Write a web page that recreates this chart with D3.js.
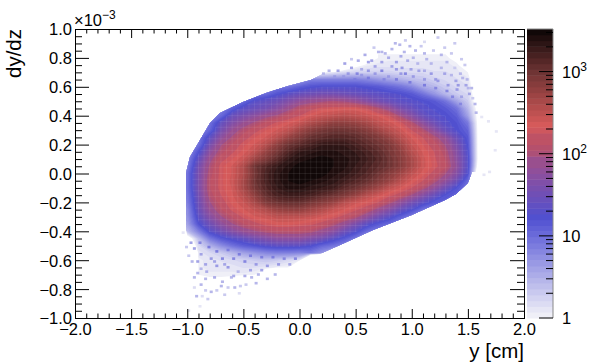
<!DOCTYPE html>
<html>
<head>
<meta charset="utf-8">
<script src="https://d3js.org/d3.v7.min.js"></script>
<style>
  html, body { margin: 0; background: #fff; }
  text { font-family: "Liberation Sans", sans-serif; fill: #000; }
  .tick line, .domain { stroke: #000; }
</style>
</head>
<body>
<div id="chart"></div>
<script>
// bin centres of the coarse table
var yCentres = [-1.1,-1.0,-0.9,-0.8,-0.7,-0.6,-0.5,-0.4,-0.3,-0.2,-0.1,0,0.1,0.2,0.3,0.4,0.5,0.6,0.7,0.8,0.9,1.0,1.1,1.2,1.3,1.4,1.5,1.6,1.7,1.8];
var slopeCentres = [0.8,0.75,0.7,0.65,0.6,0.55,0.5,0.45,0.4,0.35,0.3,0.25,0.2,0.15,0.1,0.05,0,-0.05,-0.1,-0.15,-0.2,-0.25,-0.3,-0.35,-0.4,-0.45,-0.5,-0.55,-0.6,-0.65,-0.7,-0.75];

// log10(entries) per row, top to bottom. -4 = empty, short rows are empty to the right
var logCounts = [
  [-4,-4,-4,-4,-4,-4,-4,-4,-4,-4,-4,-4,-4,-4,-4,-4,-4,-.3,0,.05,.05,.05,.05,.05,.05,-.1,-.4],
  [-4,-4,-4,-4,-4,-4,-4,-4,-4,-4,-4,-4,-4,-4,-4,-.4,-.1,.05,.1,.1,.1,.1,.1,.1,.1,.05,-.2],
  [-4,-4,-4,-4,-4,-4,-4,-4,-4,-4,-4,-.6,-.3,0,.1,.2,.25,.25,.25,.25,.2,.2,.2,.15,.15,.1,0,-.6],
  [-4,-4,-4,-4,-4,-4,-4,-4,-4,-4,.2,.6,.85,.85,.85,.85,.85,.8,.7,.6,.5,.4,.35,.25,.2,.15,.1,-.4],
  [-4,-4,-4,-4,-4,-4,-4,-1.5,.4,.9,.95,1.1,1.2,1.25,1.25,1.25,1.25,1.2,1.15,1.05,.95,.8,.55,.45,.3,.2,.15,-.4],
  [-4,-4,-4,-4,-4,-1.5,.4,.9,1,1.2,1.35,1.45,1.5,1.55,1.55,1.5,1.45,1.4,1.35,1.3,1.25,1.15,.95,.7,.45,.3,.2,-.3],
  [-4,-4,-4,-4,.3,.8,1,1.3,1.4,1.5,1.65,1.8,1.9,1.95,2,1.95,1.85,1.7,1.55,1.45,1.35,1.3,1.25,1.15,.95,.6,.3,-.3],
  [-4,-4,-4,.5,.9,1.1,1.35,1.45,1.55,1.7,1.9,2.1,2.2,2.3,2.32,2.35,2.35,2.25,2.05,1.85,1.6,1.45,1.3,1.25,1.15,.95,.45,-.2],
  [-4,-4,-4,.9,1,1.45,1.6,1.75,1.9,2,2.15,2.25,2.38,2.46,2.5,2.55,2.5,2.45,2.38,2.25,1.95,1.7,1.45,1.3,1.25,1.1,.6,-.2],
  [-4,-4,.5,.95,1.4,1.65,1.85,2,2.15,2.28,2.36,2.46,2.6,2.7,2.8,2.8,2.75,2.65,2.5,2.42,2.3,2.05,1.75,1.5,1.3,1.2,.9,-.2],
  [-4,-4,.8,1.05,1.55,1.85,2.05,2.2,2.32,2.4,2.5,2.7,2.85,2.95,3,3,2.95,2.85,2.7,2.55,2.42,2.25,2.05,1.75,1.45,1.25,1.05,-.2],
  [-4,.4,.9,1.35,1.75,2,2.18,2.32,2.4,2.55,2.75,2.9,3.05,3.1,3.15,3.15,3.1,3,2.9,2.75,2.55,2.38,2.25,2.05,1.8,1.45,1.15,-.2],
  [-4,.6,.95,1.55,1.95,2.13,2.3,2.4,2.55,2.8,3,3.1,3.2,3.3,3.3,3.3,3.2,3.1,3,2.9,2.7,2.46,2.32,2.18,1.95,1.6,1.2,-.2],
  [-4,.7,1.2,1.75,2.06,2.23,2.35,2.5,2.75,2.95,3.15,3.3,3.35,3.4,3.4,3.35,3.3,3.2,3.1,2.95,2.8,2.55,2.38,2.25,2.05,1.7,1.25,-.2],
  [.4,.8,1.4,1.9,2.2,2.32,2.45,2.7,2.9,3.1,3.3,3.4,3.45,3.5,3.45,3.4,3.35,3.25,3.15,3,2.85,2.65,2.42,2.28,2.1,1.75,1.3,-.2],
  [.5,.85,1.55,2,2.3,2.4,2.6,3,3.15,3.3,3.4,3.5,3.5,3.5,3.45,3.4,3.3,3.2,3.1,3,2.85,2.65,2.42,2.3,2.15,1.8,1.3,-.3],
  [.6,.95,1.6,2.05,2.3,2.4,2.6,2.95,3.2,3.35,3.45,3.5,3.5,3.5,3.4,3.35,3.25,3.15,3,2.85,2.7,2.5,2.36,2.2,1.98,1.7,1.25,-.6],
  [.6,.95,1.6,2.1,2.3,2.42,2.65,3,3.2,3.35,3.45,3.5,3.45,3.4,3.35,3.25,3.15,3.05,2.9,2.75,2.55,2.38,2.25,2.05,1.8,1.5,1,.5,-4],
  [.6,.95,1.6,2.1,2.3,2.4,2.65,2.95,3.15,3.3,3.4,3.4,3.35,3.3,3.25,3.1,3,2.85,2.7,2.5,2.38,2.25,2.05,1.8,1.5,1.2,.9,-4],
  [.6,.9,1.55,2.05,2.25,2.38,2.55,2.8,3.05,3.2,3.25,3.25,3.2,3.1,3,2.9,2.75,2.55,2.42,2.3,2.18,1.95,1.7,1.45,1.2,1.05,.8,-4],
  [.6,.85,1.5,1.95,2.18,2.35,2.45,2.65,2.9,3,3.05,3.05,2.95,2.85,2.75,2.55,2.42,2.35,2.25,2.05,1.8,1.55,1.35,1.15,1.05,.8,-4],
  [.6,.75,1.45,1.85,2.1,2.28,2.38,2.48,2.6,2.75,2.8,2.8,2.7,2.6,2.46,2.38,2.28,2.15,1.9,1.7,1.45,1.25,.95,.8,-4],
  [.6,.7,1.35,1.7,1.95,2.12,2.28,2.38,2.42,2.5,2.5,2.5,2.46,2.38,2.32,2.2,2.05,1.8,1.55,1.35,1.1,.85,.5,-4],
  [.3,.6,1.2,1.5,1.75,1.95,2.1,2.2,2.3,2.35,2.35,2.32,2.28,2.2,2.05,1.85,1.6,1.35,1.15,1,.8,.5,-4],
  [-4,.4,.85,1.3,1.5,1.7,1.85,1.95,2.05,2.1,2.1,2.1,2.05,1.9,1.75,1.5,1.3,1,.85,.5,-4],
  [-4,-.3,.4,.9,1.15,1.3,1.4,1.55,1.65,1.75,1.75,1.75,1.65,1.55,1.35,1.15,.9,.6,-4],
  [-4,-.6,.2,.5,.75,.95,1.1,1.2,1.3,1.35,1.35,1.35,1.25,1.05,.95,.8,.5,-4],
  [-4,-4,.1,.2,.3,.45,.6,.7,.8,.85,.85,.8,.9,.7,.4,-4],
  [-4,-4,.05,.1,.15,.2,.25,.3,.35,.3,.2,.1,-3],
  [-4,-4,.05,.1,.1,.1,.15,.15,.1,.05,0,-3],
  [-4,-4,0,.05,.05,.05,.05,0,-.4],
  [-4,-1,-.2,-.1,-.1,-.2,-.5]
];

// outline of the populated region (the sharp kinematic edges)
var edgeY = [-1.011,-1.011,-0.976,-0.886,-0.797,-0.708,-0.503,-0.298,-0.102,0.102,0.272,0.566,0.6,2,2,1.537,1.5,1.394,1.296,1.0,0.655,0.361,0.12,-0.085,-0.414,-0.753,-0.976,-1.011];
var edgeSlope = [-0.183,0.003,0.114,0.232,0.349,0.419,0.495,0.557,0.606,0.647,0.716,0.855,1,1,0.01,0.01,-0.066,-0.142,-0.183,-0.287,-0.391,-0.495,-0.578,-0.647,-0.737,-0.855,-0.91,-0.91];

// isolated low-count bins in the tails: y, dy/dz, entries
var sparseY = [.84,.88,.97,1.07,1.22,1.37,.81,.72,.57,.69,1.1,1.25,1.34,1.43,.89,.78,.63,.51,.45,.95,1.04,1.16,1.25,1.37,1.46,.66,.81,.54,.39,1.1,.98,1.34,1.44,1.49,1.53,1.61,1.74,1.67,.54,.66,.78,.89,1,1.1,1.22,1.31,1.39,1.43,
  .42,.5,.6,.72,.74,.85,.93,1.05,1.16,1.2,1.28,1.38,1.47,1.5,1.4,1.3,1.35,1.42,1.2,1.1,.97,.85,.6,.48,.38,.33,.3,.25,.2,.6,.72,.85,.9,1,1.12,1.3,1.18,1.02,.92,.75,1.28,1.1,.93,.45,.65,1.42,1.48,1.52,1.55,1.56,
  -.95,-.89,-.95,-.84,-.77,-.89,-.8,-.93,-.83,-.68,-.62,-.54,-.49,-.44,-.71,-.59,-.38,-.23,-.68,-.89,-.56,-.77,-1,-.9,1.63,1.68,1.73,
  -.98,-.9,-.82,-.75,-.65,-.55,-.45,-.35,-.25,-.15,-.05,-.6,-.7,-.8,-.92,-.85,-.75,-.65,-.5,-.4,-.3,-.2,-.1,-.45,-.35,-.6,-.5,-.3,-.4,-.7,-.85,-.92,-.97,-.75,-.85,-.65,-.55,-.95,-.88,-1.02,-1.05,-1];
var sparseSlope = [.91,.9,.89,.89,.95,.91,.87,.85,.83,.85,.84,.83,.84,.8,.82,.81,.79,.79,.74,.79,.77,.77,.74,.74,.76,.75,.75,.73,.77,.72,.73,.69,.67,.6,.53,.4,.3,.37,.69,.7,.68,.7,.68,.66,.65,.62,.59,.54,
  .7,.7,.72,.72,.66,.73,.7,.72,.7,.66,.7,.65,.62,.56,.62,.58,.54,.49,.6,.62,.64,.66,.67,.66,.68,.72,.68,.72,.7,.78,.78,.78,.74,.81,.8,.78,.86,.86,.85,.84,.88,.92,.93,.8,.88,.7,.66,.6,.49,.43,
  -.51,-.55,-.71,-.67,-.71,-.76,-.81,-.84,-.86,-.83,-.71,-.77,-.76,-.71,-.77,-.78,-.69,-.69,-.62,-.65,-.67,-.6,-.94,-.91,0,.02,.17,
  -.47,-.47,-.5,-.53,-.52,-.55,-.56,-.57,-.57,-.58,-.58,-.58,-.58,-.58,-.6,-.62,-.63,-.64,-.6,-.62,-.63,-.62,-.62,-.66,-.66,-.7,-.7,-.72,-.75,-.74,-.72,-.68,-.6,-.8,-.8,-.78,-.82,-.78,-.84,-.5,-.4,-.56];
var sparseCount = [3,3,3,2,2,2,3,3,3.5,3,3,3,2,2,3.5,3.5,4,3.5,4,3.5,3,3,3,2,2,4,4,3.5,4,3.5,4,3,3,3,2,1.3,1.3,1.3,5,5,5,5,5,5,5,4.5,4.5,4,
  5,6,5,6,6,5,6,4,5,5,4,4,4,4,5,6,6,6,6,7,8,7,7,8,5,4,5,3,3,4,4,4,5,3,3,3,2,3,3,3,2,1.4,2,2,2,3,3,3,3,3,
  4,4,3,3.5,3.5,3,3,3,2,2,3,2,2,3,3,3,3,3,4,3,3,4,1.3,1.3,1.3,1.3,1.3,
  4,6,7,7,8,8,8,8,7,6,6,6,6,5,4,4,5,5,6,5,5,5,4,4,4,3.5,3.5,3,3,3,3,3,3,2,2,2,1.4,1.4,1.4,2,1.3,2];

var xMajor = [-2,-1.5,-1,-0.5,0,0.5,1,1.5,2];
var slopeMajor = [-1,-0.8,-0.6,-0.4,-0.2,0,0.2,0.4,0.6,0.8,1];
var zMajor = [1,10,100,1000];
var zMinor = [2,3,4,5,6,7,8,9,20,30,40,50,60,70,80,90,200,300,400,500,600,700,800,900,2000,3000];
var zMax = 3300;

// colour ramp, sampled from the palette bar (log10 entries -> colour)
var rampStops = [0,1,1.22,1.78,2.1,2.35,3,3.52];
var rampColors = ["#f4f4f8","#6c6cda","#5050d0","#8e4f9c","#b85068","#d65a5a","#6e3333","#0a0505"];

var width = 598, height = 364;
var margin = { top: 29, right: 74, bottom: 46, left: 75 };
var nLevels = 50;

var svg = d3.select("#chart").append("svg")
    .attr("width", width)
    .attr("height", height)
    .style("display", "block");

var x = d3.scaleLinear().domain([-2, 2]).range([margin.left, width - margin.right]);
var y = d3.scaleLinear().domain([-1, 1]).range([height - margin.bottom, margin.top]);
var z = d3.scaleLog().domain([1, zMax]).range([height - margin.bottom, margin.top]);
var ramp = d3.scaleLinear().domain(rampStops).range(rampColors);

var topLog = Math.log10(zMax);
var levels = d3.range(nLevels).map(function(i) { return i * topLog / nLevels; });
function levelColor(v) {
    var i = Math.min(nLevels - 1, Math.floor(v / topLog * nLevels));
    return ramp((i + 0.5) * topLog / nLevels);
}

// table -> flat grid for d3.contours
var nx = yCentres.length, ny = slopeCentres.length;
var grid = [];
logCounts.forEach(function(row) {
    for (var i = 0; i < nx; i++) grid.push(row[i] === undefined ? -4 : row[i]);
});

var contours = d3.contours().size([nx, ny]).smooth(true).thresholds(levels)(grid);

var toPlot = d3.geoTransform({
    point: function(gx, gy) {
        var a = yCentres[0] + (gx - 0.5) * (yCentres[1] - yCentres[0]);
        var b = slopeCentres[0] + (gy - 0.5) * (slopeCentres[1] - slopeCentres[0]);
        this.stream.point(x(a), y(b));
    }
});
var path = d3.geoPath(toPlot);

var defs = svg.append("defs");
defs.append("clipPath").attr("id", "plotClip").append("rect")
    .attr("x", x(-2)).attr("y", y(1))
    .attr("width", x(2) - x(-2)).attr("height", y(-1) - y(1));
defs.append("clipPath").attr("id", "edgeClip").append("path")
    .attr("d", d3.line()
        .x(function(d) { return x(d); })
        .y(function(d, i) { return y(edgeSlope[i]); })
        .curve(d3.curveLinearClosed)(edgeY));
// faint bin-grid moire only shows inside the populated part
defs.append("clipPath").attr("id", "coreClip").append("path")
    .attr("d", path(d3.contours().size([nx, ny]).smooth(true).contour(grid, 1.25)));

var plot = svg.append("g").attr("clip-path", "url(#plotClip)");

plot.append("g").attr("clip-path", "url(#edgeClip)").selectAll("path")
    .data(contours)
    .join("path")
    .attr("d", path)
    .attr("fill", function(d) { return levelColor(d.value); });

// sparse tail bins
var binW = 0.027, binH = 0.018;
plot.append("g").selectAll("rect")
    .data(sparseCount)
    .join("rect")
    .attr("x", function(d, i) { return x(sparseY[i]); })
    .attr("y", function(d, i) { return y(sparseSlope[i]); })
    .attr("width", x(binW) - x(0))
    .attr("height", y(0) - y(binH))
    .attr("fill", function(d) { return levelColor(Math.log10(d)); });

var moire = plot.append("g").attr("clip-path", "url(#edgeClip)")
    .append("g").attr("clip-path", "url(#coreClip)")
    .attr("stroke", "#fff").attr("stroke-opacity", 0.08);
moire.selectAll("line.v").data(d3.range(-1, 1.6, 0.05)).join("line")
    .attr("class", "v")
    .attr("x1", function(d) { return x(d); }).attr("x2", function(d) { return x(d); })
    .attr("y1", y(1)).attr("y2", y(-1));
moire.selectAll("line.h").data(d3.range(-0.6, 0.7, 0.04)).join("line")
    .attr("class", "h")
    .attr("y1", function(d) { return y(d); }).attr("y2", function(d) { return y(d); })
    .attr("x1", x(-2)).attr("x2", x(2));

// Ejes: major + minor ticks, drawn inward on all four sides
function minorsOf(majors, n) {
    var out = [];
    for (var i = 0; i < majors.length - 1; i++) {
        for (var j = 1; j < n; j++) out.push(majors[i] + (majors[i + 1] - majors[i]) * j / n);
    }
    return out;
}
var xMinor = minorsOf(xMajor, 5);
var slopeMinor = minorsOf(slopeMajor, 4);
var fmt = d3.format(".1f");
var tickX = 9, tickY = 14;

function addAxis(axisFn, scale, tr, minor, major, len, labels) {
    var g = svg.append("g").attr("transform", tr);
    g.call(axisFn(scale).tickValues(minor).tickSize(-len / 2).tickFormat(""));
    g.selectAll("text").remove();
    var h = svg.append("g").attr("transform", tr);
    h.call(axisFn(scale).tickValues(major).tickSize(-len).tickPadding(len * -1 + 3)
        .tickFormat(labels ? fmt : ""));
    return h;
}

var bottom = addAxis(d3.axisBottom, x, "translate(0," + y(-1) + ")", xMinor, xMajor, tickX, true);
bottom.selectAll("text").attr("y", 17).attr("dy", 0)
    .style("font-size", "16.5px").attr("dominant-baseline", "auto");
var left = addAxis(d3.axisLeft, y, "translate(" + x(-2) + ",0)", slopeMinor, slopeMajor, tickY, true);
left.selectAll("text").attr("x", -3).attr("dy", "0.36em")
    .style("font-size", "16.5px");
addAxis(d3.axisTop, x, "translate(0," + y(1) + ")", xMinor, xMajor, tickX, false);
addAxis(d3.axisRight, y, "translate(" + x(2) + ",0)", slopeMinor, slopeMajor, tickY, false);
svg.selectAll(".domain").attr("stroke-width", 1);

// titulos
svg.append("text")
    .attr("transform", "translate(21," + y(1) + ") rotate(-90)")
    .attr("text-anchor", "end")
    .style("font-size", "20.5px")
    .text("dy/dz");
svg.append("text")
    .attr("x", x(2)).attr("y", 358)
    .attr("text-anchor", "end")
    .style("font-size", "20.5px")
    .text("y [cm]");
var exp = svg.append("text").attr("x", x(-2) - 1).attr("y", 26).style("font-size", "16.5px");
exp.append("tspan").text("\u00d710");
exp.append("tspan").attr("dy", -7).style("font-size", "12px").text("\u22123");

// palette bar
var barX = 527, barW = 26;
var bar = svg.append("g");
bar.selectAll("rect")
    .data(levels)
    .join("rect")
    .attr("x", barX)
    .attr("width", barW)
    .attr("y", function(d, i) { return z(Math.pow(10, levels[i] + topLog / nLevels)); })
    .attr("height", function(d) { return z(Math.pow(10, d)) - z(Math.pow(10, d + topLog / nLevels)) + 0.5; })
    .attr("fill", function(d) { return levelColor(d); });
bar.append("path")
    .attr("d", "M" + barX + "," + z(zMax) + "H" + (barX + barW) + "V" + z(1))
    .attr("fill", "none").attr("stroke", "#888").attr("stroke-width", 1);

var barAxis = svg.append("g").attr("transform", "translate(" + (barX + barW) + ",0)");
barAxis.selectAll("line.minor").data(zMinor).join("line")
    .attr("class", "minor")
    .attr("x1", -7).attr("x2", 0)
    .attr("y1", function(d) { return z(d); }).attr("y2", function(d) { return z(d); })
    .attr("stroke", "#000");
barAxis.selectAll("line.major").data(zMajor).join("line")
    .attr("class", "major")
    .attr("x1", -14).attr("x2", 0)
    .attr("y1", function(d) { return z(d); }).attr("y2", function(d) { return z(d); })
    .attr("stroke", "#000");

var barLabels = ["1", "10", "10", "10"];
var barPowers = ["", "", "2", "3"];
zMajor.forEach(function(d, i) {
    var t = svg.append("text")
        .attr("x", 562)
        .attr("y", z(d) + 6)
        .style("font-size", "16.5px")
        .text(barLabels[i]);
    if (barPowers[i]) t.append("tspan").attr("dy", -7).style("font-size", "12px").text(barPowers[i]);
});
</script>
</body>
</html>
